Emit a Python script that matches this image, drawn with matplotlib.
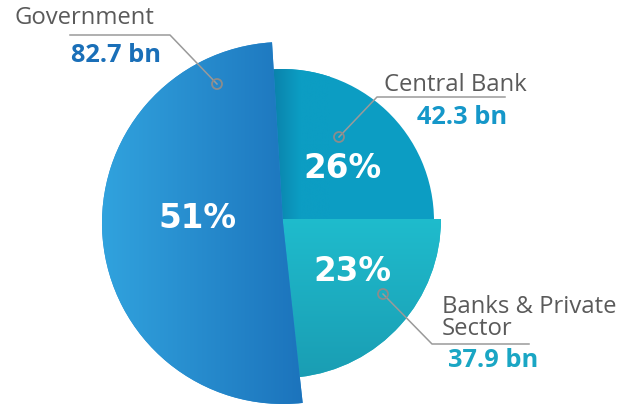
import matplotlib.pyplot as plt
import matplotlib.patches as mpatches
from matplotlib.colors import LinearSegmentedColormap
import numpy as np

# Data
names = ['Central Bank', 'Government', 'Banks & Private\nSector']
amounts_bn = [42.3, 82.7, 37.9]
pct_labels = ['26%', '51%', '23%']

# Style
radii = [152, 181, 159]
centers = [(282, 222), (283, 224), (282, 220)]
wedge_colors = ['#0c9dc3', '#2a8fd4', '#1db4c8']
value_colors = ['#1597c9', '#1a6fb8', '#1aa6c4']

fig = plt.figure(figsize=(6.3, 4.06), dpi=100)
ax = fig.add_axes([0, 0, 1, 1])

wedges, _ = ax.pie(amounts_bn, startangle=0, counterclock=False,
                   center=(284, 222), radius=150, colors=wedge_colors,
                   wedgeprops=dict(linewidth=0), frame=True)
for w, r, c in zip(wedges, radii, centers):
    w.set_radius(r)
    w.set_center(c)
wedges[0].set_zorder(1)
wedges[2].set_zorder(2)
wedges[1].set_zorder(3)

# central bank: darker band along the government edge
cb = wedges[0]
cmap0 = LinearSegmentedColormap.from_list('cb', ['#0a7fa8', '#0c9dc3', '#0c9dc3'])
grad0 = np.linspace(0, 1, 256).reshape(1, -1)
im0 = ax.imshow(grad0, cmap=cmap0, extent=(270, 330, 225, 65), aspect='auto', zorder=1.1)
im0.set_clip_path(cb)

# gradient on the government slice
gov = wedges[1]
cmap = LinearSegmentedColormap.from_list('gov', ['#31a3de', '#1a6fb9'])
grad = np.linspace(0, 1, 256).reshape(1, -1)
im = ax.imshow(grad, cmap=cmap, extent=(100, 322, 410, 35), aspect='auto', zorder=3.1)
im.set_clip_path(gov)

# gradient on banks slice (top lighter)
bk = wedges[2]
cmap2 = LinearSegmentedColormap.from_list('bk', ['#1fbccd', '#1a9db3'])
grad2 = np.linspace(0, 1, 256).reshape(-1, 1)
im2 = ax.imshow(grad2, cmap=cmap2, extent=(280, 445, 380, 218), aspect='auto', zorder=2.1)
im2.set_clip_path(bk)

# percent labels
pct_pos = [(342, 169), (197, 219), (352, 272)]
for (x, y), t in zip(pct_pos, pct_labels):
    ax.text(x, y, t, color='white', fontsize=23.5, fontweight='bold',
            family='DejaVu Sans', ha='center', va='center', zorder=5)

# leader lines and labels
gray = '#9a9a9a'
leaders = [
    [(339, 138), (377, 98), (505, 98)],
    [(217, 85), (170, 36), (70, 36)],
    [(383, 295), (432, 345), (529, 345)],
]
for pts in leaders:
    xs, ys = zip(*pts)
    ax.plot(xs, ys, color=gray, lw=1.1, zorder=6)
    ax.add_patch(mpatches.Circle(pts[0], 5, fill=False, edgecolor='#8c8c8c', lw=1.3, zorder=7))

lab_font = 'Open Sans'
ax.text(384, 85, names[0], color='#5a5a5a', fontsize=17.2, family=lab_font, ha='left', va='center')
ax.text(417, 118, f'{amounts_bn[0]} bn', color=value_colors[0], fontsize=18.3, fontweight='bold',
        family=lab_font, ha='left', va='center')

ax.text(14, 18, names[1], color='#5a5a5a', fontsize=17.2, family=lab_font, ha='left', va='center')
ax.text(71, 55, f'{amounts_bn[1]} bn', color=value_colors[1], fontsize=18.3, fontweight='bold',
        family=lab_font, ha='left', va='center')

ax.text(442, 318, names[2], color='#5a5a5a', fontsize=17.2, family=lab_font, ha='left', va='center',
        linespacing=0.92)
ax.text(448, 361, f'{amounts_bn[2]} bn', color=value_colors[2], fontsize=18.3, fontweight='bold',
        family=lab_font, ha='left', va='center')

ax.set_xlim(0, 630)
ax.set_ylim(406, 0)
ax.set_aspect('equal')
ax.axis('off')

fig.savefig('out.png', dpi=100)
